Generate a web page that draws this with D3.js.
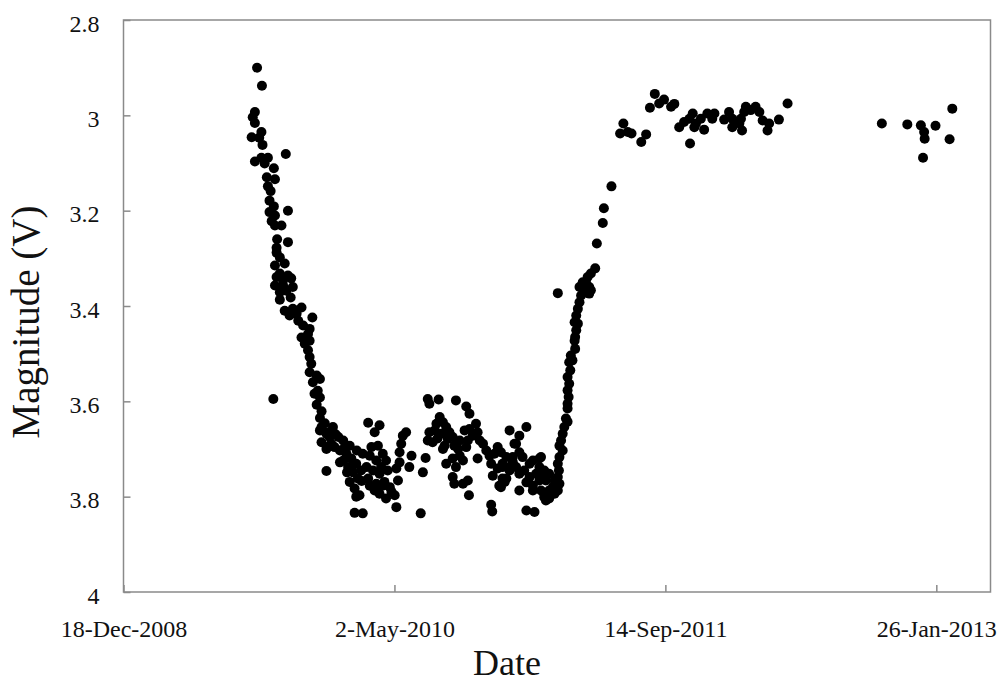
<!DOCTYPE html>
<html><head><meta charset="utf-8">
<script src="https://cdn.jsdelivr.net/npm/d3@7"></script>
<style>body{margin:0;background:#fff}</style>
</head><body><svg id="c" width="1003" height="683"></svg>
<script>
// Epsilon Aurigae V photometry: HJD - 2450000 and V magnitude
const hjd = [
5065,5074,5061,5057,5061,5073,5055,5069,5075,5118,5061,5073,5085,5079,5096,5083,5098,5085,5090,5088,
5096,5122,5088,5098,5092,5110,5098,5102,5122,5101,5101,5107,5098,5116,5107,5122,5101,5113,5128,5098,
5113,5131,5107,5119,5127,5107,5116,5131,5147,5138,5125,5167,5141,5150,5162,5147,5159,5162,5153,5159,
5162,5165,5162,5175,5181,5168,5177,5181,5095,5175,5184,5181,5171,5190,5205,5184,5181,5196,5193,5199,
5215,5224,5184,5202,5199,5227,5193,5208,5218,5230,5224,5239,5233,5248,5242,5260,5257,5251,5236,5245,
5254,5248,5193,5270,5291,5282,5276,5288,5273,5285,5297,5303,5267,5279,5294,5291,5306,5270,5285,5300,
5282,5291,5310,5319,5303,5322,5245,5260,5325,5322,5328,5328,5331,5334,5340,5350,5346,5371,5376,5367,
5380,5383,5400,5432,5451,5457,5383,5389,5380,5402,5396,5408,5414,5393,5405,5420,5417,5426,5408,5429,
5414,5426,5432,5439,5445,5436,5451,5454,5463,5457,5469,5472,5476,5426,5429,5445,5454,5456,5472,5482,
5488,5494,5503,5509,5497,5509,5500,5518,5525,5512,5537,5531,5549,5562,5543,5549,5555,5543,5549,5568,
5574,5586,5568,5580,5574,5595,5598,5595,5589,5562,5577,5497,5499,5620,5666,5678,5675,5660,5660,5657,
5654,5651,5657,5654,5652,5651,5652,5644,5647,5641,5643,5638,5641,5638,5640,5638,5638,5635,5638,5632,
5629,5626,5623,5629,5623,5620,5622,5620,5623,5620,5614,5604,5595,5611,5604,5592,5586,5589,5562,5574,
5598,5540,5537,5525,5534,5518,5522,5515,5515,5719,5705,5703,5692,5689,5681,5675,5672,5681,5669,5663,
5678,5735,5741,5749,5756,5774,5783,5790,5799,5807,5816,5829,5835,5844,5853,5863,5869,5875,5872,5884,
5890,5896,5909,5905,5864,5927,5936,5942,5942,5958,5960,5955,5964,5967,5976,5985,5992,5998,6007,6010,
6028,6044,6218,6265,6290,6296,6297,6294,6317,6343,6348,
5210,5236,5218,5231,5240,5258,5249,5313,5297,5273,5411,5398,5439,5448,5531,5558,5586,5604,5614,5549,
5518
];
const vmag = [
2.900,2.938,2.993,3.004,3.016,3.035,3.046,3.047,3.062,3.081,3.097,3.089,3.089,3.101,3.111,3.130,3.134,3.149,3.159,3.179,
3.191,3.200,3.203,3.210,3.222,3.231,3.231,3.260,3.266,3.278,3.288,3.298,3.315,3.311,3.332,3.336,3.339,3.346,3.342,3.357,
3.357,3.360,3.371,3.368,3.382,3.387,3.410,3.406,3.403,3.416,3.420,3.424,3.431,3.441,3.448,3.466,3.459,3.473,3.479,3.493,
3.507,3.521,3.539,3.546,3.553,3.560,3.578,3.592,3.595,3.607,3.621,3.635,3.584,3.646,3.654,3.654,3.661,3.665,3.668,3.675,
3.675,3.682,3.686,3.689,3.693,3.696,3.700,3.696,3.703,3.710,3.724,3.720,3.738,3.731,3.749,3.710,3.745,3.762,3.769,3.783,
3.797,3.800,3.746,3.645,3.650,3.665,3.696,3.693,3.714,3.724,3.710,3.724,3.738,3.745,3.738,3.752,3.745,3.762,3.773,3.769,
3.787,3.794,3.780,3.797,3.804,3.822,3.834,3.835,3.766,3.741,3.728,3.707,3.689,3.672,3.665,3.714,3.738,3.749,3.719,3.835,
3.595,3.605,3.596,3.598,3.611,3.626,3.665,3.686,3.682,3.633,3.647,3.644,3.654,3.661,3.668,3.665,3.679,3.675,3.700,3.693,
3.731,3.720,3.738,3.714,3.724,3.700,3.696,3.682,3.672,3.658,3.647,3.665,3.682,3.759,3.773,3.773,3.766,3.797,3.720,3.689,
3.703,3.714,3.710,3.696,3.731,3.741,3.756,3.762,3.762,3.777,3.728,3.661,3.672,3.654,3.689,3.707,3.717,3.738,3.752,3.731,
3.724,3.720,3.759,3.752,3.787,3.745,3.766,3.794,3.787,3.829,3.832,3.817,3.831,3.373,3.350,3.360,3.371,3.360,3.392,3.406,
3.420,3.434,3.437,3.451,3.465,3.473,3.490,3.504,3.514,3.518,3.535,3.549,3.563,3.577,3.591,3.605,3.615,3.636,3.643,3.654,
3.668,3.682,3.693,3.703,3.717,3.731,3.745,3.759,3.773,3.787,3.794,3.804,3.801,3.780,3.752,3.749,3.738,3.717,3.770,3.777,
3.808,3.689,3.717,3.717,3.735,3.738,3.769,3.780,3.707,3.149,3.195,3.226,3.269,3.321,3.332,3.339,3.350,3.367,3.367,3.378,
3.374,3.038,3.017,3.035,3.038,3.056,3.040,2.984,2.955,2.975,2.967,2.982,2.976,3.025,3.014,3.007,2.996,3.017,3.025,3.007,
3.030,2.996,2.996,3.007,3.059,3.009,2.993,3.007,3.025,3.007,3.032,3.017,2.993,2.982,2.989,2.982,2.993,3.011,3.032,3.017,
3.009,2.975,3.017,3.019,3.021,3.035,3.049,3.089,3.022,3.050,2.986,
3.669,3.693,3.728,3.749,3.737,3.767,3.703,3.790,3.777,3.777,3.693,3.678,3.682,3.661,3.745,3.745,3.766,3.787,3.766,3.787,
3.731
];
const xDomainDates = ["2008-12-18","2013-05-06"];
const xTickDates = ["2008-12-18","2010-05-02","2011-09-14","2013-01-26"];
const yTicks = [2.8,3,3.2,3.4,3.6,3.8,4];
const xTitle = "Date";
const yTitle = "Magnitude (V)";

const parseD = s => new Date(s + "T00:00:00Z");
const toDate = j => new Date((j + 2450000 - 2440587.5) * 864e5);
const data = hjd.map((j, i) => ({d: toDate(j), v: vmag[i]}));

const L = 123.5, R = 990.5, T = 20, B = 592;
const FONT = "'Liberation Serif', 'Times New Roman', serif";
const GRAY = "#8a8a8a";

const svg = d3.select("#c");
const x = d3.scaleUtc().domain(xDomainDates.map(parseD)).range([L, R]);
const y = d3.scaleLinear().domain([2.8, 4]).range([T, B]);

// frame
svg.append("rect").attr("x", L).attr("y", T).attr("width", R - L).attr("height", B - T)
  .attr("fill", "none").attr("stroke", GRAY).attr("stroke-width", 1.5);

const fmt = d3.utcFormat("%-d-%b-%Y");
const xAxis = svg.append("g").attr("transform", `translate(0,${B})`)
  .call(d3.axisBottom(x).tickValues(xTickDates.map(parseD)).tickFormat(fmt)
    .tickSizeInner(-7).tickSizeOuter(0).tickPadding(28));
const yAxis = svg.append("g").attr("transform", `translate(${L},0)`)
  .call(d3.axisLeft(y).tickValues(yTicks).tickFormat(d3.format("~g"))
    .tickSizeInner(-7).tickSizeOuter(0).tickPadding(24));
[xAxis, yAxis].forEach(g => {
  g.select(".domain").remove();
  g.selectAll(".tick line").attr("stroke", GRAY).attr("stroke-width", 1.5);
  g.selectAll(".tick text").attr("font-family", FONT).attr("font-size", 24).attr("fill", "#111");
});
yAxis.selectAll(".tick text").attr("dy", "0.46em");

// points
svg.append("g").selectAll("circle").data(data).join("circle")
  .attr("cx", d => x(d.d)).attr("cy", d => y(d.v)).attr("r", 5).attr("fill", "#000");

// titles
svg.append("text").attr("x", 507).attr("y", 675).attr("text-anchor", "middle")
  .attr("font-family", FONT).attr("font-size", 36).attr("fill", "#111").text(xTitle);
svg.append("text").attr("transform", "translate(39,322) rotate(-90)").attr("text-anchor", "middle")
  .attr("font-family", FONT).attr("font-size", 39).attr("fill", "#111").text(yTitle);
</script>
</body></html>
